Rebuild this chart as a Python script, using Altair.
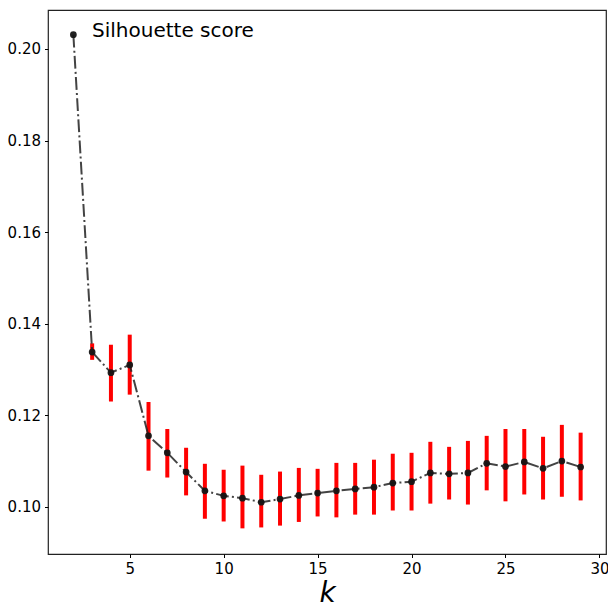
import altair as alt
import pandas as pd

k = list(range(2, 30))
score = [0.2031, 0.1338, 0.1293, 0.1310, 0.1155, 0.1118, 0.1076, 0.1035, 0.1024,
         0.1019, 0.1010, 0.1017, 0.1025, 0.1030, 0.1035, 0.1039, 0.1043, 0.1052,
         0.1055, 0.1074, 0.1072, 0.1074, 0.1095, 0.1088, 0.1098, 0.1084, 0.1100, 0.1087]
err_hi = [0.2031, 0.1357, 0.1354, 0.1376, 0.1229, 0.1170, 0.1129, 0.1094, 0.1081,
          0.1090, 0.1070, 0.1077, 0.1085, 0.1083, 0.1096, 0.1096, 0.1103, 0.1116,
          0.1118, 0.1142, 0.1131, 0.1144, 0.1155, 0.1170, 0.1170, 0.1153, 0.1179, 0.1162]
err_lo = [0.2031, 0.1321, 0.1230, 0.1245, 0.1079, 0.1064, 0.1025, 0.0974, 0.0968,
          0.0953, 0.0955, 0.0959, 0.0967, 0.0979, 0.0977, 0.0983, 0.0983, 0.0992,
          0.0992, 0.1007, 0.1016, 0.1005, 0.1036, 0.1012, 0.1027, 0.1016, 0.1022, 0.1014]
x_ticks = [5, 10, 15, 20, 25, 30]
y_ticks = [0.10, 0.12, 0.14, 0.16, 0.18, 0.20]

df = pd.DataFrame({"k": k, "score": score, "hi": err_hi, "lo": err_lo})

FONT = "DejaVu Sans"
xs = alt.Scale(domain=[0.65, 30.35], nice=False, zero=False)
ys = alt.Scale(domain=[0.0897, 0.2085], nice=False, zero=False)

xax = alt.Axis(values=x_ticks, title="k", grid=False, tickSize=3.5, labelFontSize=15,
               titleFontSize=28, titleFontStyle="italic", titleFontWeight="normal",
               titleFont=FONT, labelFont=FONT, labelColor="black", titleColor="black",
               tickColor="black", domain=False, labelPadding=4, titlePadding=3,
               labelFlush=False)
yax = alt.Axis(values=y_ticks, title=None, grid=False, tickSize=3.5, labelFontSize=15,
               labelFont=FONT, labelColor="black", tickColor="black", domain=False,
               format=".2f", labelPadding=4)

base = alt.Chart(df)

bars = base.mark_rule(color="#ff0000", strokeWidth=4).encode(
    x=alt.X("k:Q", scale=xs, axis=xax),
    y=alt.Y("lo:Q", scale=ys, axis=yax),
    y2="hi:Q",
)

line = base.mark_line(color="#222222", opacity=0.85, strokeWidth=2,
                      strokeDash=[12.8, 3.2, 2, 3.2]).encode(
    x=alt.X("k:Q", scale=xs),
    y=alt.Y("score:Q", scale=ys),
)

pts = base.mark_point(filled=True, color="#151515", opacity=0.95, size=45).encode(
    x=alt.X("k:Q", scale=xs),
    y=alt.Y("score:Q", scale=ys),
)

label = alt.Chart(pd.DataFrame({"t": ["Silhouette score"]})).mark_text(
    align="left", baseline="alphabetic", fontSize=20, font=FONT, color="black"
).encode(text="t:N", x=alt.value(44), y=alt.value(27))

chart = alt.layer(bars, line, pts, label).properties(
    width=558, height=544,
    autosize=alt.AutoSizeParams(type="none"),
    padding={"left": 40, "top": 2, "right": 2, "bottom": 54},
).configure_view(stroke="#222222", strokeWidth=1.2)

chart.save("out.html", embed_options={"renderer": "svg", "actions": False})
